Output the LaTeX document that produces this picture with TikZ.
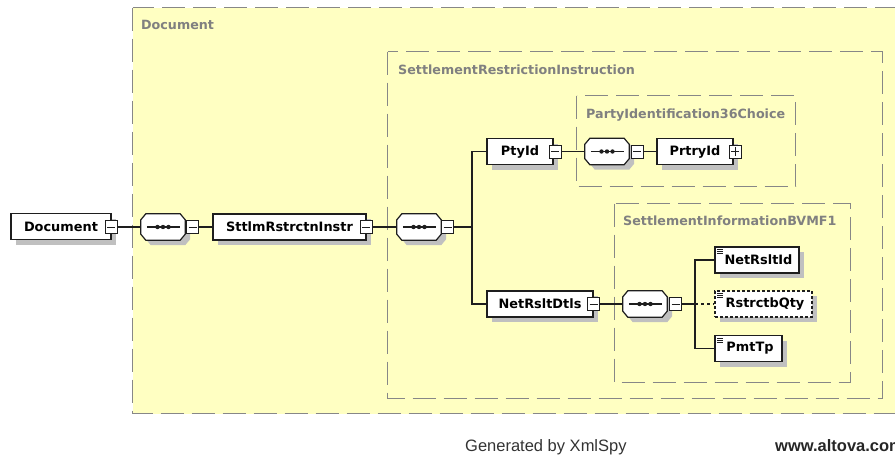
\documentclass[tikz,border=0pt]{standalone}
\usepackage{fontspec}
\setmainfont{DejaVu Sans}
\newfontfamily\footfont{Liberation Sans}
\usetikzlibrary{shadows,calc}
\definecolor{bgy}{RGB}{255,255,194}
\definecolor{dashg}{RGB}{135,135,135}
\definecolor{labelg}{RGB}{128,128,128}
\definecolor{shadowc}{RGB}{192,192,192}
\definecolor{ink}{RGB}{30,30,30}
\newcommand\octpath[3]{($(#1.north west)+(5+#2,#3)$) -- ($(#1.north east)+(-5+#2,#3)$) -- ($(#1.north east)+(#2,6+#3)$) -- ($(#1.south east)+(#2,-6+#3)$) -- ($(#1.south east)+(-5+#2,#3)$) -- ($(#1.south west)+(5+#2,#3)$) -- ($(#1.south west)+(#2,-6+#3)$) -- ($(#1.north west)+(#2,6+#3)$) -- cycle}
\newcommand\seqshape[1]{%
  \fill[shadowc] \octpath{#1}{5}{5};
  \draw[ink, fill=white, line width=1.2pt] \octpath{#1}{0}{0};
  \draw[ink, line width=1.1pt] ($(#1.west)+(6,0)$) -- ($(#1.east)+(-5,0)$);
  \foreach \k in {-5.5,0,5.5} \fill[ink] ($(#1.center)+(\k,0)$) circle (2.2pt);
}
\begin{document}
\begin{tikzpicture}[x=1pt,y=-1pt,
  cont/.style={draw=dashg, fill=bgy, line width=1.4pt, dash pattern=on 23pt off 8pt},
  clabel/.style={anchor=base west, inner sep=0pt, text=labelg, font=\bfseries\fontsize{12.7}{14}\selectfont},
  elem/.style={draw=ink, fill=white, line width=1.2pt, minimum height=26pt, inner sep=0pt,
    font=\bfseries\fontsize{12.9}{14}\selectfont,
    drop shadow={shadow xshift=5pt, shadow yshift=-5pt, fill=shadowc, opacity=1}},
  optelem/.style={elem, dash pattern=on 3pt off 2pt},
  seq/.style={minimum width=44pt, minimum height=26pt, inner sep=0pt},
  pm/.style={draw=ink, fill=white, line width=0.9pt, minimum width=12pt, minimum height=13pt, inner sep=0pt,
    path picture={\draw[ink, line width=0.9pt] ([xshift=2pt]path picture bounding box.west) -- ([xshift=-2pt]path picture bounding box.east);}},
  pp/.style={draw=ink, fill=white, line width=0.9pt, minimum width=12pt, minimum height=13pt, inner sep=0pt,
    path picture={\draw[ink, line width=0.9pt] ([xshift=2pt]path picture bounding box.west) -- ([xshift=-2pt]path picture bounding box.east)
      ([yshift=-2pt]path picture bounding box.north) -- ([yshift=2pt]path picture bounding box.south);}},
  conn/.style={ink, line width=1.1pt},
  foot/.style={anchor=base west, inner sep=0pt}
]
\useasboundingbox (0,0) rectangle (895,455);
\clip (0,0) rectangle (895,455);

% containers
\draw[cont] (132.5,7.5) rectangle (915,413.5);
\node[clabel] (lDoc) at (141,29.5) {Document};
\draw[cont] (387.5,51.5) rectangle (882.5,398.5);
\node[clabel] (lSRI) at (398,74) {SettlementRestrictionInstruction};
\draw[cont] (576.5,95.5) rectangle (795.5,186.5);
\node[clabel] (lPI) at (586,118) {PartyIdentification36Choice};
\draw[cont] (614.5,203.5) rectangle (850.5,382.5);
\node[clabel] (lSI) at (623,225) {SettlementInformationBVMF1};

% sequences
\node[seq] (s1) at (163,227) {};
\node[seq] (s2) at (419,227) {};
\node[seq] (s3) at (607,151.5) {};
\node[seq] (s4) at (645,304) {};
\seqshape{s1}\seqshape{s2}\seqshape{s3}\seqshape{s4}

% elements
\node[elem, minimum width=100pt] (doc) at (61,226.5) {Document};
\node[elem, minimum width=153pt] (sttl) at (289.5,227) {SttlmRstrctnInstr};
\node[elem, minimum width=66pt] (pty) at (520,151.5) {PtyId};
\node[elem, minimum width=76pt] (prtry) at (695,151.5) {PrtryId};
\node[elem, minimum width=106pt] (netd) at (540,304) {NetRsltDtls};
\node[elem, minimum width=84pt] (netid) at (757,260) {\hspace*{3pt}NetRsltId};
\node[optelem, minimum width=97pt] (rstr) at (763.5,304) {\hspace*{3pt}RstrctbQty};
\node[elem, minimum width=67pt] (pmt) at (748.5,348.5) {\hspace*{3pt}PmtTp};
\foreach \n in {netid,rstr,pmt}
  \foreach \k in {0,2,4}
    \draw[ink, line width=0.7pt] ($(\n.north west)+(3,3+\k)$) -- +(6,0);

% expand/collapse boxes
\node[pm] (docm) at (111,227) {};
\node[pm] (s1m) at (192.5,227) {};
\node[pm] (sttlm) at (366,227) {};
\node[pm] (s2m) at (447.5,227) {};
\node[pm] (ptym) at (555,151.5) {};
\node[pm] (s3m) at (637,151.5) {};
\node[pp] (prtryp) at (735,151.5) {};
\node[pm] (netdm) at (593.5,304) {};
\node[pm] (s4m) at (675.5,304) {};

% connectors
\coordinate (j1) at (472,227);
\coordinate (j2) at (695,304);
\draw[conn] (docm.east) -- (s1.west);
\draw[conn] (s1m.east) -- (sttl.west);
\draw[conn] (sttlm.east) -- (s2.west);
\draw[conn] (s2m.east) -- (j1);
\draw[conn] (j1) |- (pty.west);
\draw[conn] (j1) |- (netd.west);
\draw[conn] (ptym.east) -- (s3.west);
\draw[conn] (s3m.east) -- (prtry.west);
\draw[conn] (netdm.east) -- (s4.west);
\draw[conn] (s4m.east) -- (j2);
\draw[conn] (j2) |- (netid.west);
\draw[conn] (j2) |- (pmt.west);
\draw[conn, dash pattern=on 3pt off 3pt] (j2) -- (rstr.west);

% footer
\node[foot, text=black!80, font=\footfont\fontsize{16.5}{18}\selectfont] (gen) at (465,451) {Generated by XmlSpy};
\node[foot, text=black!85, font=\footfont\bfseries\fontsize{16.5}{18}\selectfont] (alt) at (775,451) {www.altova.com};
\end{tikzpicture}
\end{document}
